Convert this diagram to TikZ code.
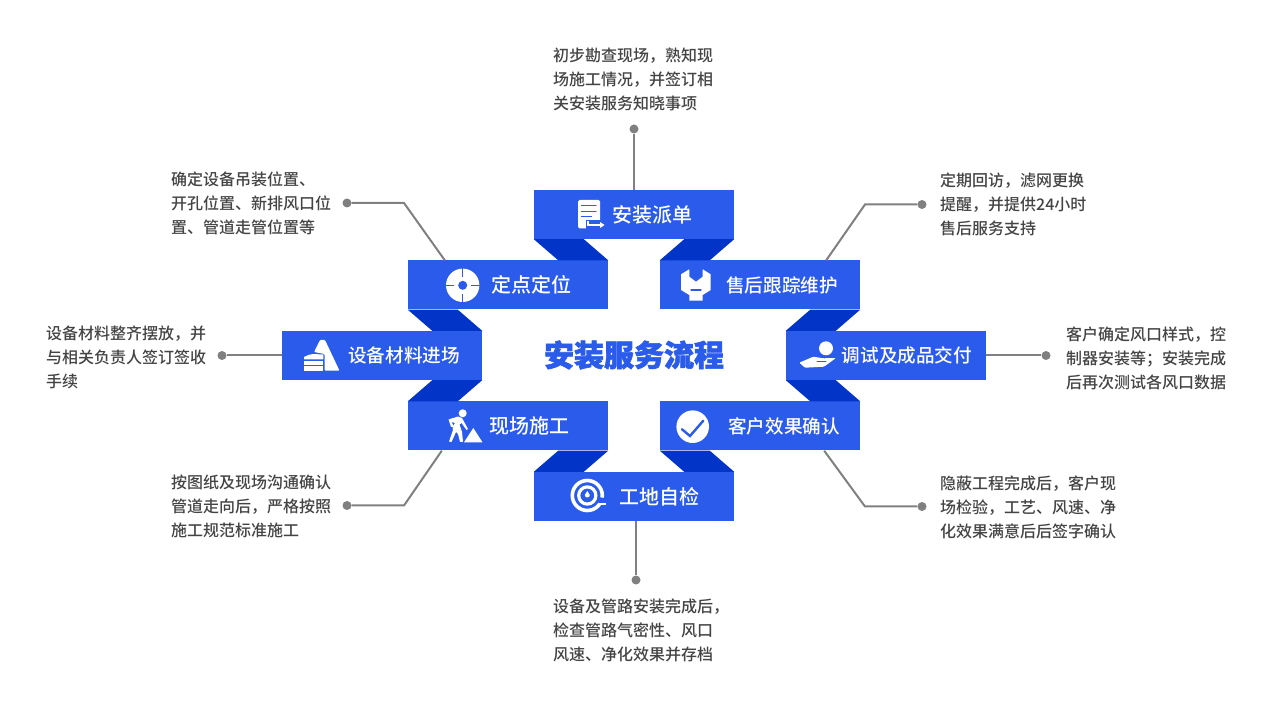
\documentclass[tikz,border=0pt]{standalone}
\usepackage{fontspec}
\usepackage{tikz}
\usepackage{xcolor}
\usetikzlibrary{positioning}
\setmainfont{Noto Sans CJK SC}
\newfontfamily\labelfont{Noto Sans CJK SC Medium}
\newfontfamily\titlefont[FakeBold=2]{Noto Sans CJK SC Black}
\definecolor{layerblue}{HTML}{2A5BEB}
\definecolor{foldblue}{HTML}{0334C8}
\definecolor{leadgray}{HTML}{808080}
\definecolor{notegray}{HTML}{444444}

\begin{document}
\begin{tikzpicture}[x=1pt, y=-1pt, node distance=70.5pt and 126pt, on grid]
  % Style definitions
  \tikzstyle{layer} = [rectangle, fill=layerblue, text=white, minimum width=200pt, minimum height=49pt, inner sep=0pt, font=\labelfont\fontsize{20}{24}\selectfont]
  \tikzstyle{longlayer} = [layer, font=\labelfont\fontsize{18.6}{24}\selectfont]
  \tikzstyle{fold} = [fill=foldblue]
  \tikzstyle{lead} = [draw=leadgray, line width=2pt]
  \tikzstyle{tip} = [circle, fill=leadgray, minimum size=9pt, inner sep=0pt]
  \tikzstyle{note} = [anchor=west, align=left, inner sep=0pt, text=notegray, font=\labelfont\fontsize{16}{24}\selectfont]
  \tikzstyle{glyph} = [fill=white, draw=none]
  \tikzstyle{cut} = [draw=layerblue, line cap=round]

  \useasboundingbox (0,0) rectangle (1270,708);

  % Steps
  \node (pai) [layer] at (634,214.5) {\hspace{36pt}安装派单};
  \node (ding) [layer, below left=of pai] {\hspace{46pt}定点定位};
  \node (shou) [longlayer, below right=of pai] {\hspace{44pt}售后跟踪维护};
  \node (she) [longlayer, below left=of ding] {\hspace{44pt}设备材料进场};
  \node (tiao) [longlayer, below right=of shou] {\hspace{42pt}调试及成品交付};
  \node (xian) [layer, below right=of she] {\hspace{42pt}现场施工};
  \node (ke) [longlayer, below left=of tiao] {\hspace{48pt}客户效果确认};
  \node (gong) [layer, below right=of xian] {\hspace{50pt}工地自检};
  \node (title) at (634,355) {\titlefont\fontsize{30}{36}\selectfont\color{layerblue}安装服务流程};

  % Folds
  \fill[fold] (pai.south west) -- ++(50,0) -- (ding.north east) -- ++(-50,0) -- cycle;
  \fill[fold] (pai.south east) -- ++(-50,0) -- (shou.north west) -- ++(50,0) -- cycle;
  \fill[fold] (ding.south west) -- ++(50,0) -- (she.north east) -- ++(-50,0) -- cycle;
  \fill[fold] (shou.south east) -- ++(-50,0) -- (tiao.north west) -- ++(50,0) -- cycle;
  \fill[fold] (she.south east) -- ++(-50,0) -- (xian.north west) -- ++(50,0) -- cycle;
  \fill[fold] (tiao.south west) -- ++(50,0) -- (ke.north east) -- ++(-50,0) -- cycle;
  \fill[fold] (xian.south east) -- ++(-50,0) -- (gong.north west) -- ++(50,0) -- cycle;
  \fill[fold] (ke.south west) -- ++(50,0) -- (gong.north east) -- ++(-50,0) -- cycle;

  % Notes
  \node (painote) [note] at (553,79) {初步勘查现场，熟知现\\场施工情况，并签订相\\关安装服务知晓事项};
  \node (dingnote) [note] at (171,203) {确定设备吊装位置、\\开孔位置、新排风口位\\置、管道走管位置等};
  \node (shounote) [note] at (940,204) {定期回访，滤网更换\\提醒，并提供24小时\\售后服务支持};
  \node (shenote) [note] at (46,357) {设备材料整齐摆放，并\\与相关负责人签订签收\\手续};
  \node (tiaonote) [note] at (1066,358) {客户确定风口样式，控\\制器安装等；安装完成\\后再次测试各风口数据};
  \node (xiannote) [note] at (171,506) {按图纸及现场沟通确认\\管道走向后，严格按照\\施工规范标准施工};
  \node (kenote) [note] at (940,507) {隐蔽工程完成后，客户现\\场检验，工艺、风速、净\\化效果满意后后签字确认};
  \node (gongnote) [note] at (553,630) {设备及管路安装完成后，\\检查管路气密性、风口\\风速、净化效果并存档};

  % Leaders
  \node (paitip) [tip] at (634,129) {};
  \node (dingtip) [tip] at (347,203) {};
  \node (shoutip) [tip] at (922,204.5) {};
  \node (shetip) [tip] at (222,355.5) {};
  \node (tiaotip) [tip] at (1046,355.5) {};
  \node (xiantip) [tip] at (347,505.5) {};
  \node (ketip) [tip] at (922,506.5) {};
  \node (gongtip) [tip] at (636,580) {};
  \coordinate (dingbend) at (404,203);
  \coordinate (shoubend) at (865,204.5);
  \coordinate (xianbend) at (404,505.5);
  \coordinate (kebend) at (865,506.5);
  \draw[lead] (pai.north) -- (paitip);
  \draw[lead] ([xshift=37pt]ding.north west) -- (dingbend) -- (dingtip);
  \draw[lead] ([xshift=-34pt]shou.north east) -- (shoubend) -- (shoutip);
  \draw[lead] (she.west) -- (shetip);
  \draw[lead] (tiao.east) -- (tiaotip);
  \draw[lead] ([xshift=34pt]xian.south west) -- (xianbend) -- (xiantip);
  \draw[lead] ([xshift=-36pt]ke.south east) -- (kebend) -- (ketip);
  \draw[lead] ([xshift=2pt]gong.south) -- (gongtip);

  % Icons
  % paper
  \fill[glyph, rounded corners=1.5pt] (578,200) rectangle (600,228.5);
  \draw[cut, line width=1.2pt] (581.5,205.7) -- (596,205.7) (581.5,211.2) -- (596,211.2) (581.5,216.8) -- (591.5,216.8);
  \fill[layerblue] (586,220) rectangle (605,229);
  \draw[white, line width=1.2pt] (588,221.5) -- (588,225) -- (601,225);
  \fill[glyph] (604.5,225) -- (600,222) -- (600,228) -- cycle;
  % target
  \fill[glyph] (462.7,285.3) circle (16.7pt);
  \draw[layerblue, line width=0.8pt] (445,285.3) -- (454,285.3) (471,285.3) -- (480,285.3) (462.7,268) -- (462.7,277) (462.7,294) -- (462.7,303);
  \fill[layerblue] (462.7,285.3) circle (4.5pt);
  % wrench
  \fill[glyph] (681,274.3) -- (689.3,269.3) -- (689.3,276.7) -- (696,281.7) -- (702.7,276.7) -- (702.7,269.3) -- (710.7,274.3) -- (710.7,290) -- (702.7,295) -- (702.7,300.7) -- (689.3,300.7) -- (689.3,295) -- (681,290) -- cycle;
  \draw[cut, line width=1.2pt] (691,290) -- (701,290);
  % stack
  \fill[glyph, rounded corners=1pt] (320,340) -- (325,340) -- (339.5,370.7) -- (324.5,370.7) -- (324.5,354) -- (314,352) -- cycle;
  \fill[glyph] (304,357) .. controls (307,355.5) and (310,354) .. (313,354) -- (323.3,354.5) -- (323.3,359.5) -- (304,359.5) -- cycle;
  \fill[glyph] (304,361) rectangle (323.3,365);
  \fill[glyph] (304,366.5) rectangle (323.3,370.7);
  % worker
  \fill[glyph] (462.7,413.3) circle (4pt);
  \fill[glyph] (448.5,419.5) -- (458,416.5) -- (462,418) -- (468,429) -- (466.5,430) -- (461.5,423) -- (459.5,424.5) -- (462,432) -- (463,442) -- (460,442) -- (458,434) -- (456,432) -- (451.5,442) -- (449,441.5) -- (453,430) -- (452.5,427) -- (455,423) -- (451.5,422) -- (454,427) -- (451,427) -- cycle;
  \fill[glyph] (473.3,428) -- (482.5,442.3) -- (464,442.3) -- cycle;
  % check
  \fill[glyph] (692.7,426.7) circle (16.3pt);
  \draw[cut, line width=2.4pt] (682,429.3) -- (690,436) -- (703.3,420.7);
  % gauge
  \draw[white, line width=3.6pt] (587.3,495.5) circle (15pt);
  \fill[layerblue] (587.3,495.5) -- (612,499) -- (608.5,509) -- cycle;
  \fill[glyph] (599,503) rectangle (605.5,505.5);
  \draw[white, line width=3.2pt] (587.3,495.5) circle (8.6pt);
  \fill[glyph] (587.3,491) -- (589.8,495) arc[start angle=0, end angle=-180, radius=2.5pt] -- cycle;
  % hand
  \fill[glyph] (826,348.3) circle (7pt);
  \fill[glyph, rounded corners=1pt] (799.3,362.7) -- (813.3,356.7) -- (823.3,358.3) -- (836,358) -- (824,366.7) -- (805,367.7) -- cycle;
  \draw[cut, line width=0.8pt] (817,361.5) -- (826,361.5);
\end{tikzpicture}
\end{document}
